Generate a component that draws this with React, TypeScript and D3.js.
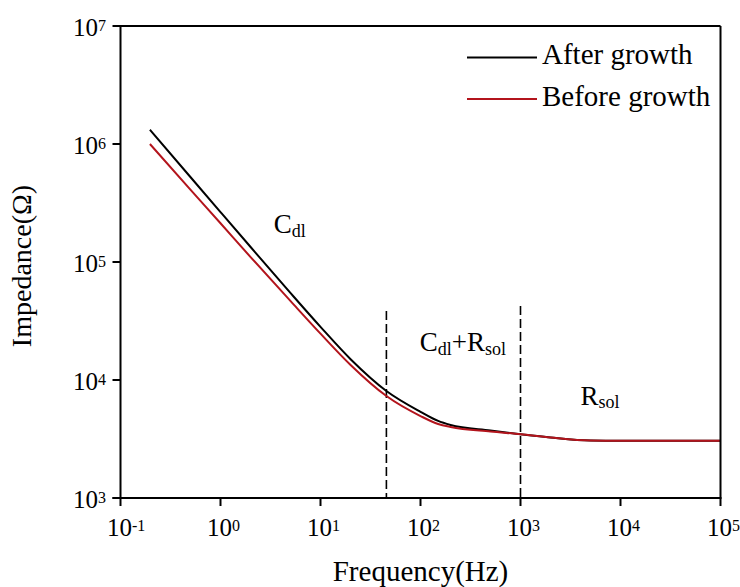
import React from "react";
import * as d3 from "d3";

const frequencies = [0.197, 0.5, 1, 2, 5, 10, 20, 45.6, 100, 150, 200, 500, 1000, 2000, 5000, 10000, 20000, 50000, 100000];
const afterGrowth = [1320000, 525000, 265000, 134000, 54700, 28200, 15000, 8070, 5380, 4500, 4160, 3730, 3470, 3260, 3070, 3050, 3050, 3050, 3060];
const beforeGrowth = [1000000, 411000, 213000, 110000, 46800, 24700, 13400, 7310, 4950, 4240, 4000, 3660, 3470, 3260, 3070, 3050, 3050, 3050, 3060];
const seriesNames = ["After growth", "Before growth"];
const xTickExponents = [-1, 0, 1, 2, 3, 4, 5];
const yTickExponents = [3, 4, 5, 6, 7];
const boundaryFreqs = [45.6, 1000];
const boundaryTops = [38500, 42400];

const W = 740;
const H = 587;
const FONT = "'Liberation Serif', 'Times New Roman', serif";

export default function App() {
  const x = d3.scaleLog().domain([0.1, 1e5]).range([120.5, 720.5]);
  const y = d3.scaleLog().domain([1e3, 1e7]).range([498, 26]);
  const left = x(0.1);
  const right = x(1e5);
  const top = y(1e7);
  const bottom = y(1e3);

  const line = d3
    .line<number>()
    .x((_, i) => x(frequencies[i]))
    .y((d) => y(d))
    .curve(d3.curveMonotoneX);

  const colors = ["#000000", "#b3141c"];
  const series = [afterGrowth, beforeGrowth];

  return (
    <svg
      width={W}
      height={H}
      style={{ position: "absolute", left: 0, top: 0, background: "#fff" }}
      fontFamily={FONT}
    >
      <rect x={0} y={0} width={W} height={H} fill="#fff" />
      {/* boundary dashed lines */}
      {boundaryFreqs.map((f, i) => (
        <line
          key={"b" + i}
          x1={x(f)}
          x2={x(f)}
          y1={y(boundaryTops[i])}
          y2={bottom}
          stroke="#000"
          strokeWidth={1.6}
          strokeDasharray="9,4"
        />
      ))}
      {/* curves */}
      {series.map((s, i) => (
        <path
          key={"s" + i}
          d={line(s) || ""}
          fill="none"
          stroke={colors[i]}
          strokeWidth={2}
        />
      ))}
      {/* frame */}
      <line x1={left} x2={right} y1={top} y2={top} stroke="#000" strokeWidth={2} />
      <line x1={right} x2={right} y1={top} y2={bottom} stroke="#000" strokeWidth={2} />
      <line x1={left} x2={left} y1={top - 1} y2={bottom + 1} stroke="#000" strokeWidth={2} />
      <line x1={left - 8} x2={right + 1} y1={bottom} y2={bottom} stroke="#000" strokeWidth={2} />
      {/* x ticks */}
      {xTickExponents.map((e) => {
        const px = x(Math.pow(10, e));
        return (
          <g key={"xt" + e}>
            <line x1={px} x2={px} y1={bottom} y2={bottom + 8} stroke="#000" strokeWidth={2} />
            <text x={px - 1} y={536} fontSize={25} textAnchor="middle" fill="#000">
              10
            </text>
            <text x={px + 11.5} y={531} fontSize={16} fill="#000">
              {e}
            </text>
          </g>
        );
      })}
      {/* y ticks */}
      {yTickExponents.map((e) => {
        const py = y(Math.pow(10, e));
        return (
          <g key={"yt" + e}>
            <line x1={left - 8} x2={left} y1={py} y2={py} stroke="#000" strokeWidth={2} />
            <text x={106} y={py + 9.5} fontSize={25} textAnchor="end" fill="#000">
              10
              <tspan fontSize={16} dy={-4.5}>
                {e}
              </tspan>
            </text>
          </g>
        );
      })}
      {/* axis titles */}
      <text x={(left + right) / 2} y={581} fontSize={29} textAnchor="middle" fill="#000">
        Frequency(Hz)
      </text>
      <text
        transform={`translate(31,${(top + bottom) / 2 + 4}) rotate(-90)`}
        fontSize={28}
        textAnchor="middle"
        fill="#000"
      >
        Impedance(Ω)
      </text>
      {/* legend */}
      {seriesNames.map((n, i) => (
        <g key={"lg" + i}>
          <line x1={467} x2={537} y1={57.5 + i * 41.5} y2={57.5 + i * 41.5} stroke={colors[i]} strokeWidth={2} />
          <text x={542} y={64 + i * 42} fontSize={29} fill="#000">
            {n}
          </text>
        </g>
      ))}
      {/* annotations */}
      <text x={x(3.41)} y={y(175000)} fontSize={27} fill="#000">
        C<tspan fontSize={18} dy={3.5}>dl</tspan>
      </text>
      <text x={x(98.4)} y={y(17600)} fontSize={27} fill="#000">
        C<tspan fontSize={18} dy={3.5}>dl</tspan>
        <tspan dy={-3.5}>+R</tspan>
        <tspan fontSize={18} dy={3.5}>sol</tspan>
      </text>
      <text x={x(3981)} y={y(6140)} fontSize={27} fill="#000">
        R<tspan fontSize={18} dy={3.5}>sol</tspan>
      </text>
    </svg>
  );
}
